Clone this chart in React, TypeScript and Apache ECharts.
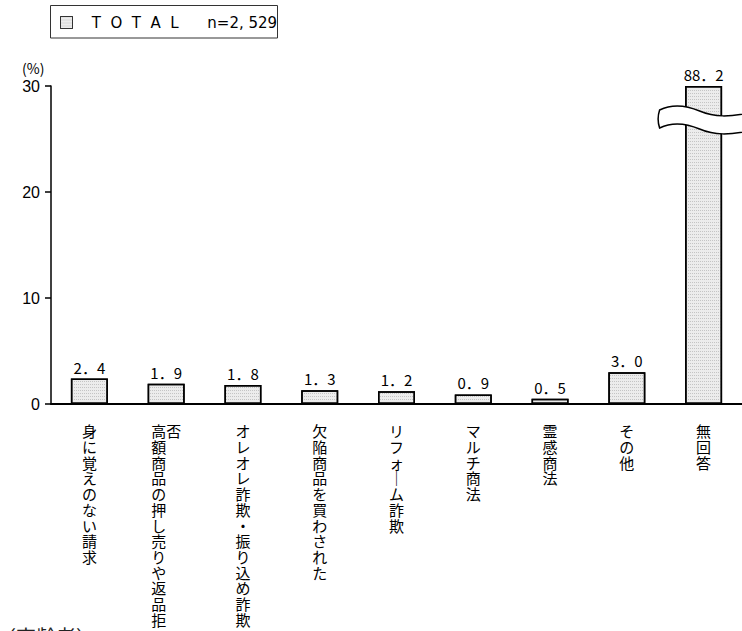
import React, { useEffect, useRef } from "react";
import * as echarts from "echarts";

const categories = [
  "身に覚えのない請求",
  "高額商品の押し売りや返品拒否",
  "オレオレ詐欺・振り込め詐欺",
  "欠陥商品を買わされた",
  "リフォーム詐欺",
  "マルチ商法",
  "霊感商法",
  "その他",
  "無回答",
];
const values = [2.4, 1.9, 1.8, 1.3, 1.2, 0.9, 0.5, 3.0, 88.2];
const yTicks = [0, 10, 20, 30];
const seriesName = "TOTAL";
const sampleSize = "n=2, 529";
const MAX_CHARS = 13;

const FONT = '"Noto Sans CJK JP", "Noto Sans", sans-serif';

echarts.graphic.registerShape(
  "breakwave",
  echarts.graphic.extendPath(
    "M0,4 C12,-2 26,-1 40,5 C54,11 68,12 100,5 L100,23 C68,30 54,29 40,23 C26,17 12,16 0,22 C-2,16 -2,10 0,4 Z",
    {}
  )
);

function verticalLabel(s: string): string {
  const chars = Array.from(s).map((c) => (c === "ー" ? "｜" : c));
  if (chars.length <= MAX_CHARS) return chars.join("\n");
  const col1 = chars.slice(0, MAX_CHARS);
  const col2 = chars.slice(MAX_CHARS);
  return col1.map((c, i) => c + (col2[i] ?? "　")).join("\n");
}

export default function App() {
  const ref = useRef<HTMLDivElement>(null);
  useEffect(() => {
    document.body.style.margin = "0";
    const chart = echarts.init(ref.current!, null, { renderer: "svg" });
    const yMax = yTicks[yTicks.length - 1];
    chart.setOption({
      animation: false,
      textStyle: { fontFamily: FONT },
      legend: {
        left: 60,
        top: 15,
        padding: 0,
        itemWidth: 12,
        itemHeight: 12,
        icon: "rect",
        data: [seriesName],
        itemStyle: { borderWidth: 1, borderColor: "#333" },
        formatter: () => "   T  O  T  A  L      " + sampleSize,
        textStyle: { fontSize: 15, color: "#000", fontFamily: '"DejaVu Sans", sans-serif' },
        selectedMode: false,
      },
      grid: { left: 51, right: -2, top: 86, bottom: 227, containLabel: false },
      xAxis: {
        type: "category",
        data: categories,
        axisLine: { lineStyle: { color: "#000", width: 2 } },
        axisTick: { show: false },
        axisLabel: {
          interval: 0,
          margin: 19,
          fontSize: 15,
          lineHeight: 15.7,
          color: "#000",
          fontFamily: FONT,
          formatter: (v: string) => verticalLabel(v),
        },
      },
      yAxis: {
        type: "value",
        min: 0,
        max: yMax,
        interval: 10,
        axisLine: { show: true, lineStyle: { color: "#000", width: 1.5 } },
        axisTick: { show: true, length: 6, lineStyle: { color: "#000", width: 1.5 } },
        axisLabel: { fontSize: 16, color: "#000", margin: 11, fontFamily: '"Liberation Sans", sans-serif' },
        splitLine: { show: false },
      },
      series: [
        {
          name: seriesName,
          type: "bar",
          barWidth: 37,
          data: values.map((v) => Math.min(v, yMax)),
          itemStyle: {
            color: "#ececec",
            borderColor: "#000",
            borderWidth: 1.5,
            decal: {
              symbol: "rect",
              symbolSize: 1,
              dashArrayX: [1, 1],
              dashArrayY: [1, 2],
              color: "rgba(120,120,120,0.35)",
            },
          },
          label: {
            show: true,
            position: "top",
            distance: 4,
            fontSize: 15,
            color: "#000",
            fontFamily: FONT,
            formatter: (p: any) => values[p.dataIndex].toFixed(1).replace(".", "．"),
          },
        },
      ],
    });

    const breakIdx = values.findIndex((v) => v > yMax);
    const [bx, by] = chart.convertToPixel({ seriesIndex: 0 }, [breakIdx, yMax]) as number[];
    chart.setOption({
      graphic: [
        {
          type: "rect",
          shape: { x: 50.5, y: 5.5, width: 227, height: 32.5 },
          style: { fill: "none", stroke: "#333", lineWidth: 1 },
          z: 0,
        },
        {
          type: "text",
          left: 22,
          top: 61,
          style: { text: "(%)", fontSize: 14, fill: "#000", fontFamily: FONT },
        },
        {
          type: "breakwave",
          x: bx - 44,
          y: by + 20,
          style: { fill: "#fff", stroke: "#000", lineWidth: 1.5 },
          z: 10,
        },
        {
          type: "text",
          left: -4,
          top: 626,
          style: { text: "（高齢者）", fontSize: 20, fill: "#222", fontFamily: FONT },
        },
      ],
    });
    return () => chart.dispose();
  }, []);
  return (
    <div
      ref={ref}
      style={{ position: "fixed", left: 0, top: 0, width: 742, height: 631, background: "#fff" }}
    />
  );
}
